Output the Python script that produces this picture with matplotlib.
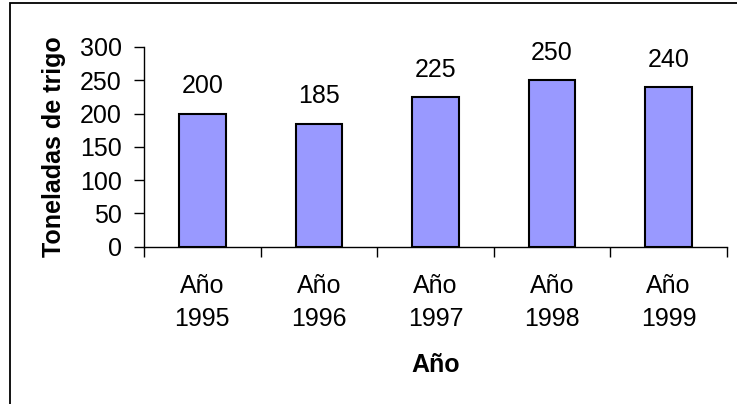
import matplotlib
matplotlib.use("Agg")
import matplotlib.pyplot as plt
from matplotlib.patches import Rectangle

categories = ["Año\n1995", "Año\n1996", "Año\n1997", "Año\n1998", "Año\n1999"]
values = [200, 185, 225, 250, 240]
yticks = [0, 50, 100, 150, 200, 250, 300]

plt.rcParams["font.family"] = ["Liberation Sans", "DejaVu Sans"]
FS = 18

W, H = 737, 404
fig = plt.figure(figsize=(W / 100, H / 100), dpi=100)

# chart frame, running off the right and bottom edges
fig.patches.append(Rectangle((10 / W, -0.1), 1.2, 1.1 - 3 / H,
                             transform=fig.transFigure, fill=False,
                             edgecolor="black", linewidth=1.3))

x0, x1 = 144, 727
y0, y1 = 246.7, 47
ax = fig.add_axes([x0 / W, 1 - y0 / H, (x1 - x0) / W, (y0 - y1) / H])

pos = list(range(len(values)))
ax.bar(pos, values, width=0.4, color="#9999FF", edgecolor="black", linewidth=1.5, zorder=3)
for p, v in zip(pos, values):
    ax.annotate(str(v), (p, v), xytext=(0, 11), textcoords="offset points",
                ha="center", va="bottom", fontsize=FS)

ax.set_xlim(-0.5, len(values) - 0.5)
ax.set_ylim(0, 300)
ax.set_yticks(yticks)
ax.set_yticklabels([str(t) for t in yticks], fontsize=FS)
ax.set_xticks(pos)
ax.set_xticklabels(categories, fontsize=FS, linespacing=1.43)
ax.set_xticks([p - 0.5 for p in pos] + [len(values) - 0.5], minor=True)
ax.tick_params(axis="x", which="major", length=0, pad=20)
ax.tick_params(axis="x", which="minor", length=7, width=1, direction="out")
ax.tick_params(axis="y", length=7, width=1, direction="out", pad=9)

for s in ("top", "right"):
    ax.spines[s].set_visible(False)
for s in ("left", "bottom"):
    ax.spines[s].set_linewidth(1)

ax.set_xlabel("Año", fontsize=FS, fontweight="bold", labelpad=16)
ax.set_ylabel("Toneladas de trigo", fontsize=FS, fontweight="bold", labelpad=10)

fig.savefig("out.png", dpi=100)
